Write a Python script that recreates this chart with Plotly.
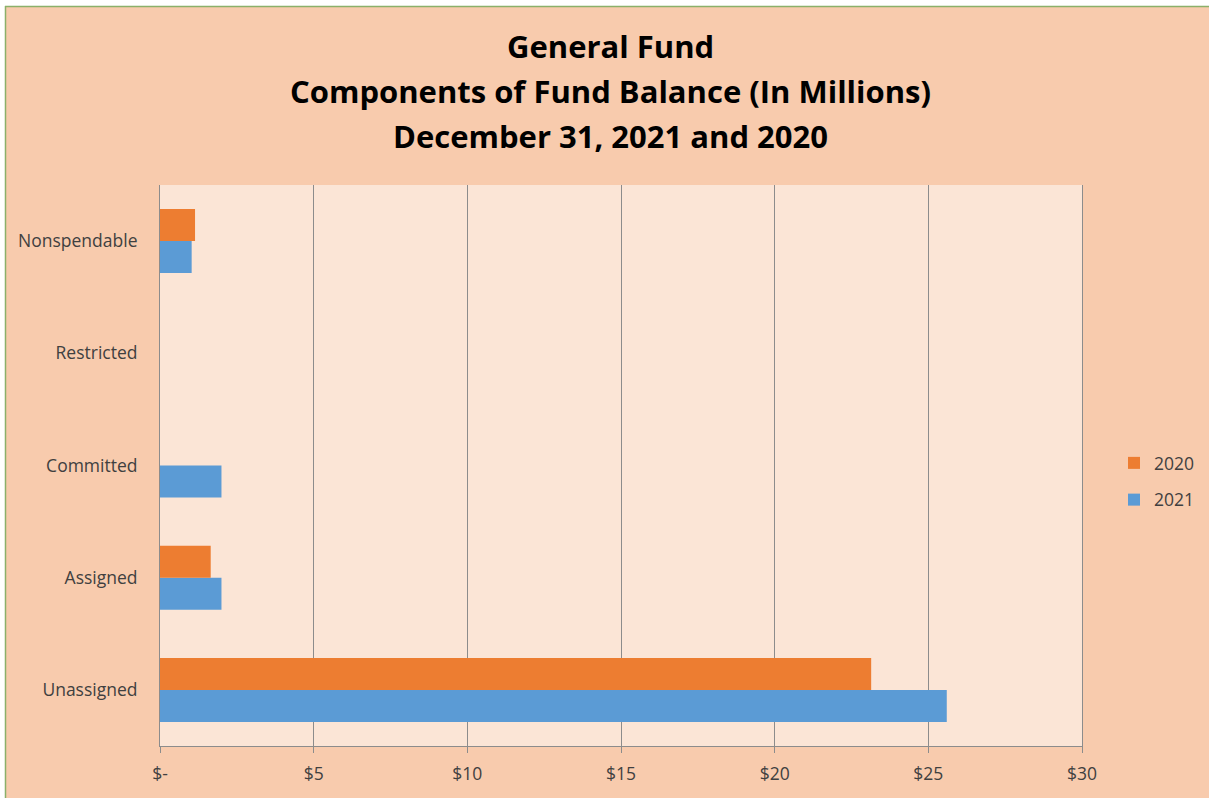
import plotly.graph_objects as go

categories = ["Nonspendable", "Restricted", "Committed", "Assigned", "Unassigned"]
values_2020 = [1.14, 0, 0, 1.65, 23.14]
values_2021 = [1.03, 0, 2.0, 2.0, 25.6]
tick_vals = [0, 5, 10, 15, 20, 25, 30]
tick_text = ["$-", "$5", "$10", "$15", "$20", "$25", "$30"]
title_lines = ["General Fund", "Components of Fund Balance (In Millions)", "December 31, 2021 and 2020"]
title_y_px = [46, 91, 136]

W, H = 1209, 798
L, R, T, B = 160, 127, 185, 52
pw = W - L - R
ph = H - T - B

def px(x):
    return (x - L) / pw

def py(y):
    return (H - B - y) / ph

fig = go.Figure()
fig.add_trace(go.Bar(name="2021", y=categories, x=values_2021, orientation="h",
                     legendgroup="b", legendrank=2,
                     marker=dict(color="#5B9BD5", line=dict(width=0))))
fig.add_trace(go.Bar(name="2020", y=categories, x=values_2020, orientation="h",
                     legendgroup="a", legendrank=1,
                     marker=dict(color="#ED7D31", line=dict(width=0))))

annotations = []
for line, yy in zip(title_lines, title_y_px):
    annotations.append(dict(
        text=line, xref="paper", yref="paper", x=px(610), y=py(yy),
        xanchor="center", yanchor="middle", showarrow=False,
        font=dict(family="Open Sans", size=31, color="#000000", weight="bold"),
    ))

fig.update_layout(
    width=W, height=H,
    margin=dict(l=L, r=R, t=T, b=B, autoexpand=False),
    paper_bgcolor="#F8CBAD",
    plot_bgcolor="#FBE5D6",
    barmode="group",
    bargap=0.43,
    bargroupgap=0,
    font=dict(family="Open Sans", size=17.5, color="#404040"),
    annotations=annotations,
    legend=dict(
        x=px(1114), y=py(445), xanchor="left", yanchor="top",
        traceorder="grouped",
        font=dict(size=17.5, color="#404040"),
        bgcolor="rgba(0,0,0,0)",
        itemwidth=30,
        tracegroupgap=11,
    ),
    xaxis=dict(
        range=[0, 30],
        tickvals=tick_vals, ticktext=tick_text,
        showgrid=True, gridcolor="#8C8C8C", gridwidth=1,
        showline=True, linecolor="#8C8C8C", linewidth=1,
        ticks="outside", ticklen=6, tickcolor="#8C8C8C",
        ticklabelstandoff=6,
        zeroline=False,
        tickfont=dict(size=17.5, color="#404040"),
        fixedrange=True,
    ),
    yaxis=dict(
        categoryorder="array", categoryarray=categories[::-1],
        showline=True, linecolor="#8C8C8C", linewidth=1, mirror=True,
        showgrid=False, ticks="", ticklabelstandoff=18,
        tickfont=dict(size=17.5, color="#404040"),
        fixedrange=True,
    ),
    shapes=[
        dict(type="rect", xref="paper", yref="paper", x0=px(-5), x1=px(5), y0=py(-5), y1=py(H + 5),
             fillcolor="white", line=dict(width=0), layer="above"),
        dict(type="rect", xref="paper", yref="paper", x0=px(-5), x1=px(W + 5), y0=py(6), y1=py(-5),
             fillcolor="white", line=dict(width=0), layer="above"),
        dict(type="line", xref="paper", yref="paper", x0=px(5.5), x1=px(5.5), y0=py(6), y1=py(H + 5),
             line=dict(color="#8BB06A", width=1.5), layer="above"),
        dict(type="line", xref="paper", yref="paper", x0=px(5), x1=px(W + 5), y0=py(6.5), y1=py(6.5),
             line=dict(color="#8BB06A", width=1.5), layer="above"),
    ],
)

fig.write_html("out.html")
